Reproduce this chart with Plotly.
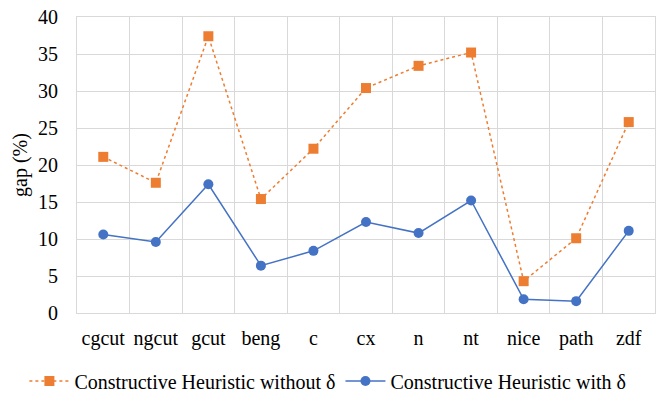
import plotly.graph_objects as go

instances = ["cgcut", "ngcut", "gcut", "beng", "c", "cx", "n", "nt", "nice", "path", "zdf"]
gap_without_delta = [21.1, 17.6, 37.4, 15.4, 22.2, 30.4, 33.4, 35.2, 4.3, 10.1, 25.8]
gap_with_delta = [10.6, 9.6, 17.4, 6.4, 8.4, 12.3, 10.8, 15.2, 1.85, 1.6, 11.1]
y_ticks = [0, 5, 10, 15, 20, 25, 30, 35, 40]

FONT = "Liberation Serif"
GRID = "#d9d9d9"

fig = go.Figure()
fig.add_trace(go.Scatter(
    x=instances, y=gap_without_delta, mode="lines+markers",
    name="Constructive Heuristic without δ",
    line=dict(color="#ED7D31", width=1.5, dash="dot"),
    marker=dict(symbol="square", size=10, color="#ED7D31"),
))
fig.add_trace(go.Scatter(
    x=instances, y=gap_with_delta, mode="lines+markers",
    name="Constructive Heuristic with δ",
    line=dict(color="#4472C4", width=1.5),
    marker=dict(symbol="circle", size=10, color="#4472C4"),
))

fig.update_layout(
    width=664, height=394,
    margin=dict(l=77, r=9, t=17, b=81, autoexpand=False),
    paper_bgcolor="white", plot_bgcolor="white",
    font=dict(family=FONT, size=20, color="black"),
    showlegend=True,
    legend=dict(
        orientation="h", xref="paper", yref="paper",
        x=-0.091, xanchor="left", y=-0.23, yanchor="middle",
        font=dict(family=FONT, size=20), itemwidth=40, traceorder="normal",
    ),
    xaxis=dict(
        type="category", tickson="boundaries", showgrid=True, gridcolor=GRID,
        gridwidth=1, showline=True, linecolor=GRID, linewidth=1, mirror=True,
        ticks="", tickangle=0, automargin=False, ticklabelstandoff=7,
        range=[-0.5, 10.5], tickfont=dict(family=FONT, size=20),
    ),
    yaxis=dict(
        range=[0, 40], tickvals=y_ticks, showgrid=True, gridcolor=GRID,
        gridwidth=1, zeroline=False, showline=True, linecolor=GRID, mirror=True,
        ticks="", automargin=False, ticklabelstandoff=14,
        tickfont=dict(family=FONT, size=20),
        title=dict(text="gap (%)", font=dict(family=FONT, size=20), standoff=5),
    ),
)

fig.write_html("out.html")
